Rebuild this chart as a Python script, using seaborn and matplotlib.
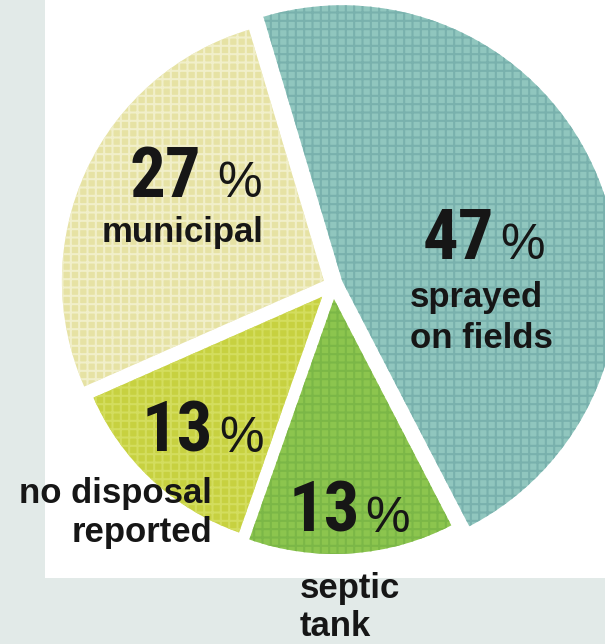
import matplotlib
matplotlib.use("Agg")
import matplotlib.pyplot as plt
from matplotlib.patches import Rectangle
from matplotlib import font_manager as fm
from matplotlib.textpath import TextPath
import seaborn as sns

# ---- data ----
categories = ["sprayed on fields", "septic tank", "no disposal reported", "municipal"]
label_lines = [["sprayed", "on fields"], ["septic", "tank"], ["no disposal", "reported"], ["municipal"]]
shares = [47, 13, 13, 27]
slice_colors = ["#90c6be", "#8cc54e", "#c7d140", "#e6e2a4"]
hatch_colors = ["#79b1ad", "#7bb747", "#d3dd5e", "#f1efca"]

# ---- layout ----
W, H = 605, 644
sns.set_theme(style="white")
LAB_FONT = "Liberation Sans"
plt.rcParams["font.family"] = [LAB_FONT, "DejaVu Sans"]
plt.rcParams["hatch.linewidth"] = 1.5

FAM_PRI = ["Liberation Sans Narrow", "Roboto Condensed", "Noto Sans", "Roboto",
           "DejaVu Sans", "Open Sans", "Liberation Sans"]
STRETCH_PRI = {"condensed": 0, "semi-condensed": 1, "extra-condensed": 2,
               "ultra-condensed": 3}


def weight_num(w):
    if isinstance(w, (int, float)):
        return int(w)
    return {"bold": 700, "normal": 400, "regular": 400, "heavy": 800,
            "black": 900, "medium": 500, "semibold": 600}.get(str(w).lower(), 400)


def pick_condensed(target):
    best, best_score = None, None
    for f in fm.fontManager.ttflist:
        fn = f.fname.lower()
        if any(k in f.name for k in ("Serif", "Mono", "CJK")):
            continue
        if f.style != "normal" or "italic" in fn or "oblique" in fn:
            continue
        cond = ("condensed" in fn or "narrow" in fn or f.stretch in STRETCH_PRI
                or "Condensed" in f.name or "Narrow" in f.name)
        if not cond:
            continue
        fam_rank = next((i for i, p in enumerate(FAM_PRI) if f.name.startswith(p)), 9)
        st = STRETCH_PRI.get(f.stretch, 0)
        if "extracondensed" in fn.replace("-", "").replace("_", ""):
            st = 2
        score = (fam_rank, st, abs(weight_num(f.weight) - target))
        if best_score is None or score < best_score:
            best, best_score = f, score
    return best


fb = pick_condensed(800)
if fb is not None:
    num_fp = fm.FontProperties(fname=fb.fname)
else:
    num_fp = fm.FontProperties(family="Liberation Sans", weight="bold")
pct_fp = fm.FontProperties(family="Liberation Sans", weight="normal")


def size_for(text, fp, px_height, px_width_max=None):
    ext = TextPath((0, 0), text, size=100, prop=fp).get_extents()
    s = px_height / (ext.height / 100 * 100 / 72)
    if px_width_max is not None:
        s_w = px_width_max / (ext.width / 100 * 100 / 72)
        s = min(s, s_w)
    return s


num_size = size_for("27", num_fp, 51, 66)
pct_size = size_for("%", pct_fp, 39, 41)
num_fp.set_size(num_size)
pct_fp.set_size(pct_size)

fig = plt.figure(figsize=(W / 100, H / 100), dpi=100, facecolor="#e2eae8")
fig.add_artist(Rectangle((45 / W, 1 - 578 / H), (W - 45) / W, 578 / H,
                         transform=fig.transFigure, facecolor="white",
                         edgecolor="none", zorder=-1))

R = 258.0
CX, CY = 333.0, 285.0
explode_px = [10, 14, 16, 10]
radii_px = [276, 255, 250, 262]

ax = fig.add_axes([0, 0, 1, 1])
ax.set_facecolor("none")
palette = sns.color_palette(slice_colors)
wedges, _ = ax.pie(shares, colors=palette, startangle=106.6, counterclock=False,
                   explode=[e / R for e in explode_px],
                   wedgeprops=dict(linewidth=0), frame=True)
for w, hc, rp in zip(wedges, hatch_colors, radii_px):
    w.set_hatch("++")
    w.set_edgecolor(hc)
    w.set_linewidth(0)
    w.set_radius(rp / R)

ax.set_xlim(-CX / R, (W - CX) / R)
ax.set_ylim(-(H - CY) / R, CY / R)
ax.set_aspect("equal")
ax.axis("off")


def fx(x):
    return x / W


def fy(y):
    return 1 - y / H


TXT = "#161616"
num_pos = [(494, 500, 259), (360, 365, 532), (213, 219, 452), (201, 217, 197)]
lab_pos = [(410, "left", [307, 348]), (300, "left", [598, 636]),
           (212, "right", [503, 542]), (183, "center", [242])]

for v, (nr, pl, bl) in zip(shares, num_pos):
    fig.text(fx(nr), fy(bl), f"{v}", ha="right", va="baseline", color=TXT,
             fontproperties=num_fp)
    fig.text(fx(pl), fy(bl), "%", ha="left", va="baseline", color=TXT,
             fontproperties=pct_fp)

for lines, (lx, ha, bls) in zip(label_lines, lab_pos):
    for line, bl in zip(lines, bls):
        fig.text(fx(lx), fy(bl), line, ha=ha, va="baseline", color=TXT,
                 fontsize=25, fontweight="bold", family=[LAB_FONT, "DejaVu Sans"])

fig.savefig("out.png", dpi=100, facecolor=fig.get_facecolor())
